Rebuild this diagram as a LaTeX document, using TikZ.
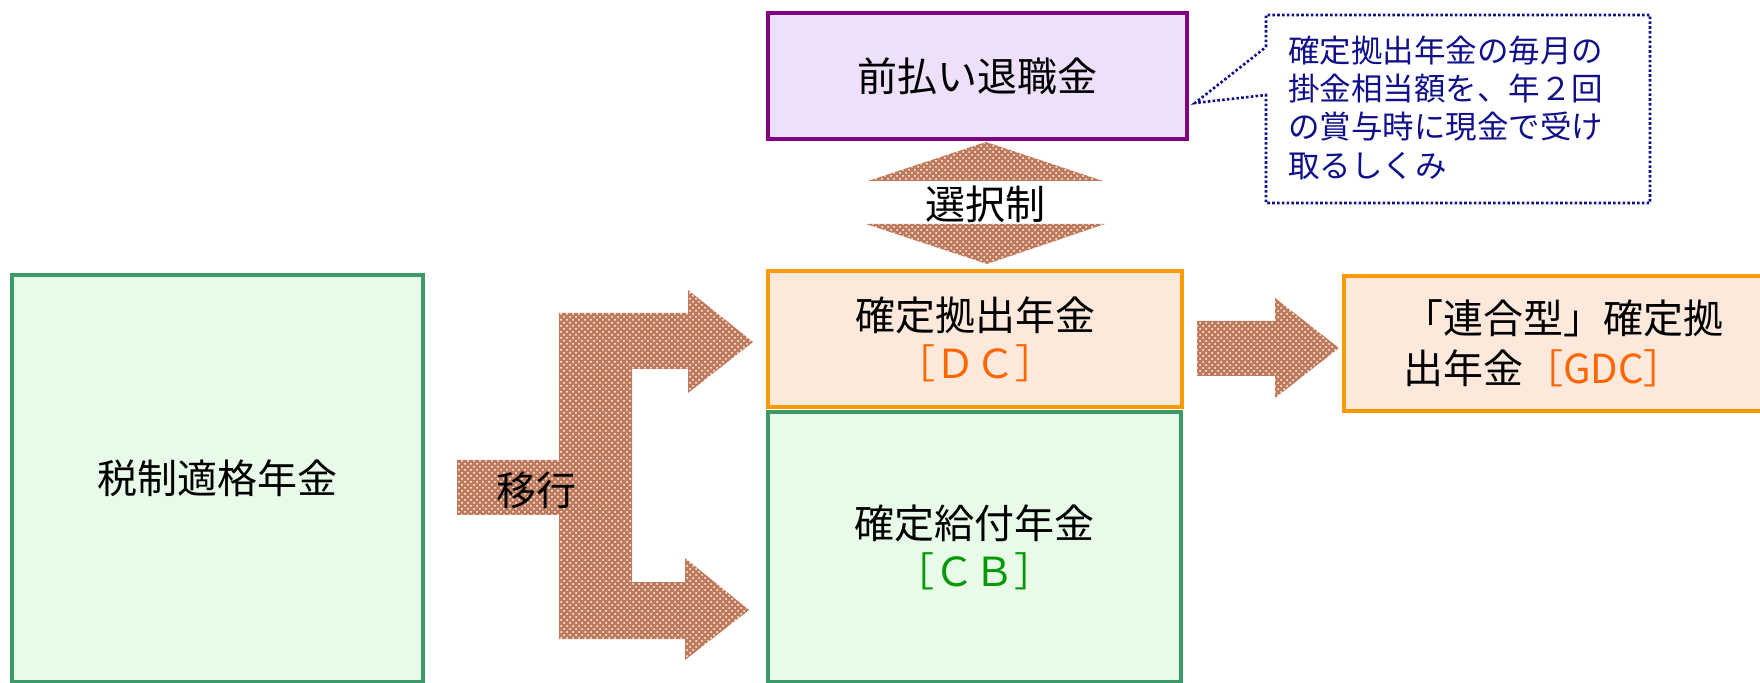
\documentclass[tikz,border=0pt]{standalone}
\usepackage{fontspec}
\setmainfont{Noto Sans CJK JP}
\usetikzlibrary{patterns}
\definecolor{boxgreen}{HTML}{3C9A68}
\definecolor{fillgreen}{HTML}{E8FAE8}
\definecolor{boxpurple}{HTML}{800080}
\definecolor{fillpurple}{HTML}{EEE0FB}
\definecolor{boxorange}{HTML}{FF9900}
\definecolor{fillorange}{HTML}{FCE9DC}
\definecolor{arrowbrown}{HTML}{BF7A5C}
\definecolor{notenavy}{HTML}{10108A}
\definecolor{dcred}{HTML}{FF6600}
\definecolor{cbgreen}{HTML}{009900}
\begin{document}
\begin{tikzpicture}[x=0.5pt,y=-0.5pt,
  box/.style={draw, line width=2pt, inner sep=0pt, align=center,
    font=\fontsize{20}{24}\selectfont},
  greenbox/.style={box, draw=boxgreen, fill=fillgreen},
  purplebox/.style={box, draw=boxpurple, fill=fillpurple},
  orangebox/.style={box, draw=boxorange, fill=fillorange},
  blockarrow/.style={fill=arrowbrown, postaction={pattern=crosshatch dots, pattern color=white}},
  lbl/.style={inner sep=0pt, font=\fontsize{20}{24}\selectfont},
  notetext/.style={inner sep=0pt, align=left, text=notenavy,
    font=\fontsize{15.75}{19.15}\selectfont},
  noteline/.style={draw=notenavy, line width=1.3pt, dash pattern=on 1.3pt off 1.1pt}
]
\clip (0,0) rectangle (1760,683);
\fill[white] (0,0) rectangle (1760,683);

% boxes
\node[greenbox, minimum width=205.5pt, minimum height=203.5pt] (tq) at (217.5,478.5) {税制適格年金};
\node[purplebox, minimum width=209.5pt, minimum height=63pt] (pre) at (977.5,76) {前払い退職金};
\node[orangebox, minimum width=207pt, minimum height=68pt] (dc) at (975,339)
  {確定拠出年金\\\textcolor{dcred}{［ＤＣ］}};
\node[greenbox, minimum width=206.5pt, minimum height=135pt] (cb) at (974.5,547)
  {確定給付年金\\\textcolor{cbgreen}{［ＣＢ］}};
\node[orangebox, align=left, minimum width=219pt, minimum height=67.5pt,
  font=\fontsize{20}{25}\selectfont] (gdc) at (1563,343.5)
  {「連合型」確定拠\\出年金\textcolor{dcred}{［GDC］}};

% callout
\coordinate (tip) at (1195,103);
\draw[noteline, fill=white] (1266,47) -- (1266,15) -- (1650,15) -- (1650,203) -- (1266,203)
  -- (1266,95) -- (tip) -- cycle;
\node[notetext, anchor=west] (note) at (1288,107.5)
  {確定拠出年金の毎月の\\掛金相当額を、年２回\\の賞与時に現金で受け\\取るしくみ};

% selection double arrow
\path[blockarrow] (868,181) -- (986,142) -- (1103,181) -- cycle;
\path[blockarrow] (866,224) -- (987,264) -- (1105,224) -- cycle;
\node[lbl] (sel) at (985,204) {選択制};

% transition arrow
\path[blockarrow] (457,460) -- (559,460) -- (559,313) -- (688,313) -- (688,290) -- (753,342)
  -- (688,393) -- (688,369) -- (632,369) -- (632,582) -- (685,582) -- (685,558)
  -- (749,610) -- (685,660) -- (685,639) -- (559,639) -- (559,515) -- (457,515) -- cycle;
\node[lbl] (move) at (536,490) {移行};

% DC to GDC arrow
\path[blockarrow] (1197,321) -- (1275,321) -- (1275,298) -- (1339,348) -- (1275,398)
  -- (1275,376) -- (1197,376) -- cycle;
\end{tikzpicture}
\end{document}
